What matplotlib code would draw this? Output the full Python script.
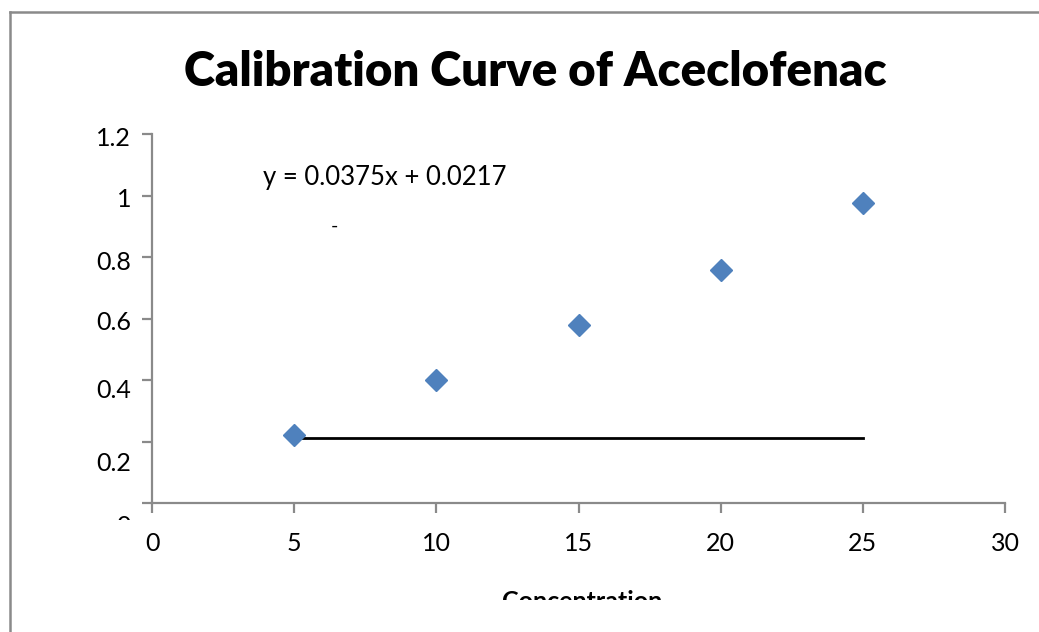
import matplotlib as mpl
mpl.use('Agg')
import matplotlib.pyplot as plt
import matplotlib.transforms as mtransforms
from matplotlib.lines import Line2D

# data
concentration = [5, 10, 15, 20, 25]
absorbance = [0.221, 0.400, 0.579, 0.757, 0.976]
fit_x = [5, 25]
fit_y = [0.212, 0.212]
y_ticks = [0, 0.2, 0.4, 0.6, 0.8, 1, 1.2]
y_labels = ['0', '0.2', '0.4', '0.6', '0.8', '1', '1.2']
x_ticks = [0, 5, 10, 15, 20, 25, 30]
equation = 'y = 0.0375x + 0.0217'

plt.rcParams['font.family'] = ['Lato', 'DejaVu Sans']

W, H = 1039, 632
fig = plt.figure(figsize=(W / 100, H / 100), dpi=100)
ax = fig.add_axes([152 / W, 1 - 503 / H, (1005 - 152) / W, (503 - 134) / H])

ax.plot(fit_x, fit_y, color='black', lw=2, zorder=2)
ax.plot(concentration, absorbance, ls='none', marker='D', markersize=11,
        color='#4f81bd', markeredgecolor='#4f81bd', zorder=3)

ax.set_xlim(0, 30)
ax.set_ylim(0, 1.2)
ax.set_xticks(x_ticks)
ax.set_yticks(y_ticks)
ax.set_yticklabels(y_labels)

for side in ['top', 'right']:
    ax.spines[side].set_visible(False)
for side in ['left', 'bottom']:
    ax.spines[side].set_color('#8a8a8a')
    ax.spines[side].set_linewidth(1.6)
ax.tick_params(axis='both', direction='out', length=7, width=1.6,
               color='#8a8a8a', labelsize=18, labelcolor='black')
ax.tick_params(axis='y', pad=8)
ax.tick_params(axis='x', pad=14)

# the reference labels sit a bit lower than their ticks
offsets = [22, 20, 8, 2, 4, 2, 3]
clip = mtransforms.Bbox.from_extents(0, H - 520, W, H)
for lab, off in zip(ax.get_yticklabels(), offsets):
    lab.set_transform(lab.get_transform() +
                      mtransforms.ScaledTranslation(0, -off / 100, fig.dpi_scale_trans))
    lab.set_clip_box(clip)
    lab.set_clip_on(True)

ax.text(3.9, 1.057, equation, fontsize=18.5, va='center', ha='left')
ax.text(6.4, 0.9, '-', fontsize=14, va='center', ha='center')

fig.text(535 / W, 1 - 72 / H, 'Calibration Curve of Aceclofenac',
         fontsize=34, fontweight='heavy', ha='center', va='center')

xl = fig.text(582 / W, 1 - 590 / H, 'Concentration', fontsize=18,
              fontweight='bold', ha='center', va='top')
xl.set_clip_box(mtransforms.Bbox.from_extents(0, H - 600, W, H))
xl.set_clip_on(True)

# chart area frame (only left and top edges are inside the picture)
fig.add_artist(Line2D([10 / W, 10 / W], [0, 1 - 12 / H], transform=fig.transFigure,
                      color='#8a8a8a', lw=1.8))
fig.add_artist(Line2D([10 / W, 1], [1 - 12 / H, 1 - 12 / H], transform=fig.transFigure,
                      color='#8a8a8a', lw=1.8))

fig.savefig('out.png', dpi=100)
